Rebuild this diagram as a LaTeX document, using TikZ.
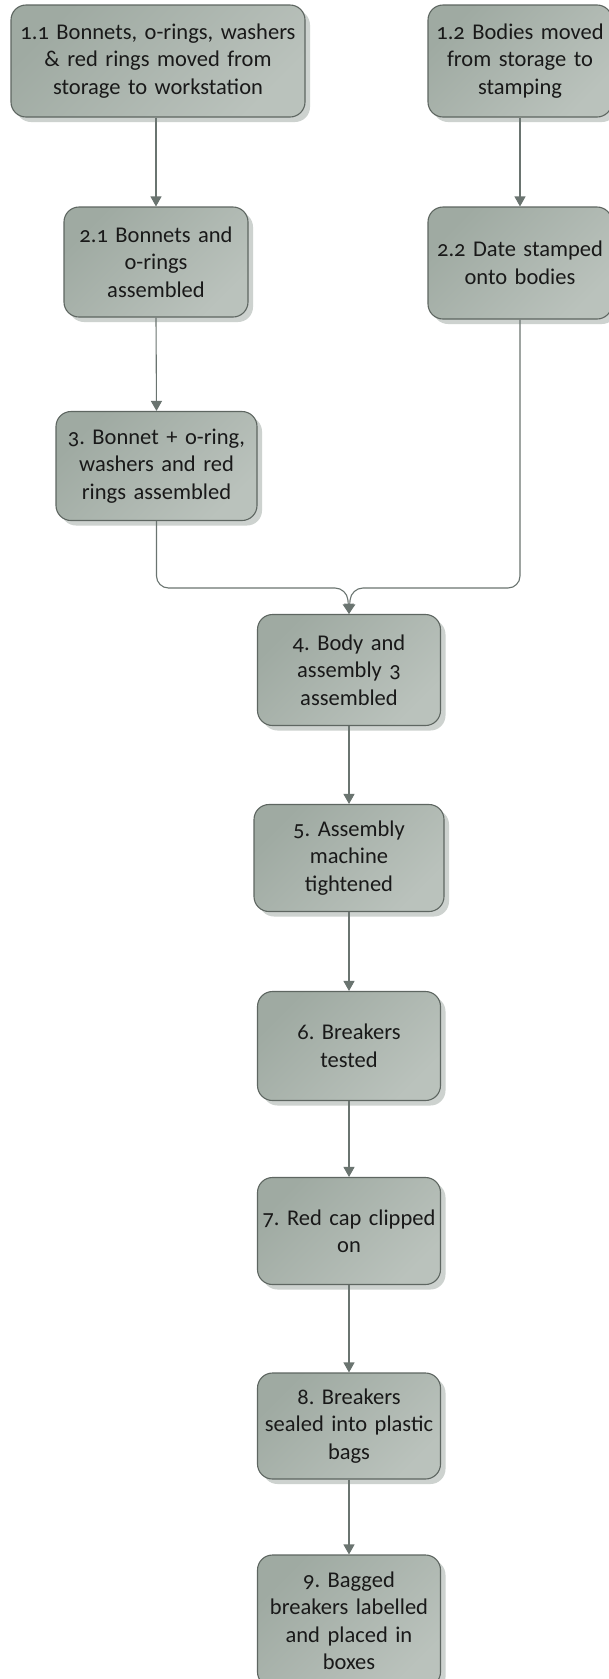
\documentclass[tikz,border=0pt]{standalone}
\usepackage{fontspec}
\setmainfont{Carlito}[Numbers=OldStyle]
\usetikzlibrary{arrows.meta,shadows}
\definecolor{boxA}{HTML}{9FAAA2}
\definecolor{boxB}{HTML}{BAC2BC}
\definecolor{boxline}{HTML}{5E6661}
\definecolor{wire}{HTML}{6A7470}
\definecolor{shade}{HTML}{CDD2CF}
\tikzset{
  stepbox/.style={draw=boxline, line width=1.1pt, rounded corners=15pt,
    left color=boxA, right color=boxB, shading angle=45,
    align=center, inner sep=2pt, text=black!90,
    font=\fontsize{22.5}{27.5}\selectfont\frenchspacing,
    drop shadow={shadow xshift=5pt, shadow yshift=-5pt, fill=shade, opacity=1}},
  flow/.style={draw=wire, line width=1.1pt,
    -{Triangle[width=11pt,length=10pt]}},
}
\begin{document}
\begin{tikzpicture}[x=1pt,y=-1pt]
\fill[white] (0,0) rectangle (609,1679);
\useasboundingbox (0,0) rectangle (609,1679);

\node[stepbox, minimum width=294pt, minimum height=112pt, text width=290pt] (n11) at (158,61)
  {1.1 Bonnets, o-rings, washers\\ \& red rings moved from\\ storage to workstation};
\node[stepbox, minimum width=184pt, minimum height=112pt, text width=180pt] (n12) at (520,61)
  {1.2 Bodies moved\\ from storage to\\ stamping};
\node[stepbox, minimum width=184pt, minimum height=110pt, text width=180pt] (n21) at (156,262)
  {2.1 Bonnets and\\ o-rings\\ assembled};
\node[stepbox, minimum width=184pt, minimum height=112pt, text width=180pt] (n22) at (520,263)
  {2.2 Date stamped\\ onto bodies};
\node[stepbox, minimum width=201pt, minimum height=109pt, text width=197pt] (n3) at (156.5,466)
  {3. Bonnet + o-ring,\\ washers and red\\ rings assembled};
\node[stepbox, minimum width=183pt, minimum height=111pt, text width=179pt] (n4) at (349,670)
  {4. Body and\\ assembly 3\\ assembled};
\node[stepbox, minimum width=190pt, minimum height=107pt, text width=186pt] (n5) at (349,858)
  {5. Assembly\\ machine\\ tightened};
\node[stepbox, minimum width=183pt, minimum height=109pt, text width=179pt] (n6) at (349,1046)
  {6. Breakers\\ tested};
\node[stepbox, minimum width=183pt, minimum height=107pt, text width=179pt] (n7) at (349,1231)
  {7. Red cap clipped\\ on};
\node[stepbox, minimum width=183pt, minimum height=106pt, text width=179pt] (n8) at (349,1426)
  {8. Breakers\\ sealed into plastic\\ bags};
\node[stepbox, minimum width=183pt, minimum height=132pt, text width=179pt] (n9) at (349,1621)
  {9. Bagged\\ breakers labelled\\ and placed in\\ boxes};

\draw[flow] (n11.south -| n21.north) -- (n21.north);
\draw[flow] (n12.south) -- (n22.north);
\draw[flow] (n21.south) -- (n3.north);

\coordinate (mergeL) at (n4.north |- 0,588);
\draw[flow, rounded corners=12pt] (n3.south) -- (n3.south |- mergeL) -- ([xshift=-2pt]mergeL) -- (n4.north);
\draw[flow, rounded corners=12pt] (n22.south) -- (n22.south |- mergeL) -- ([xshift=2pt]mergeL) -- (n4.north);

\draw[flow] (n4.south) -- (n5.north);
\draw[flow] (n5.south) -- (n6.north);
\draw[flow] (n6.south) -- (n7.north);
\draw[flow] (n7.south) -- (n8.north);
\draw[flow] (n8.south) -- (n9.north);
\end{tikzpicture}
\end{document}
